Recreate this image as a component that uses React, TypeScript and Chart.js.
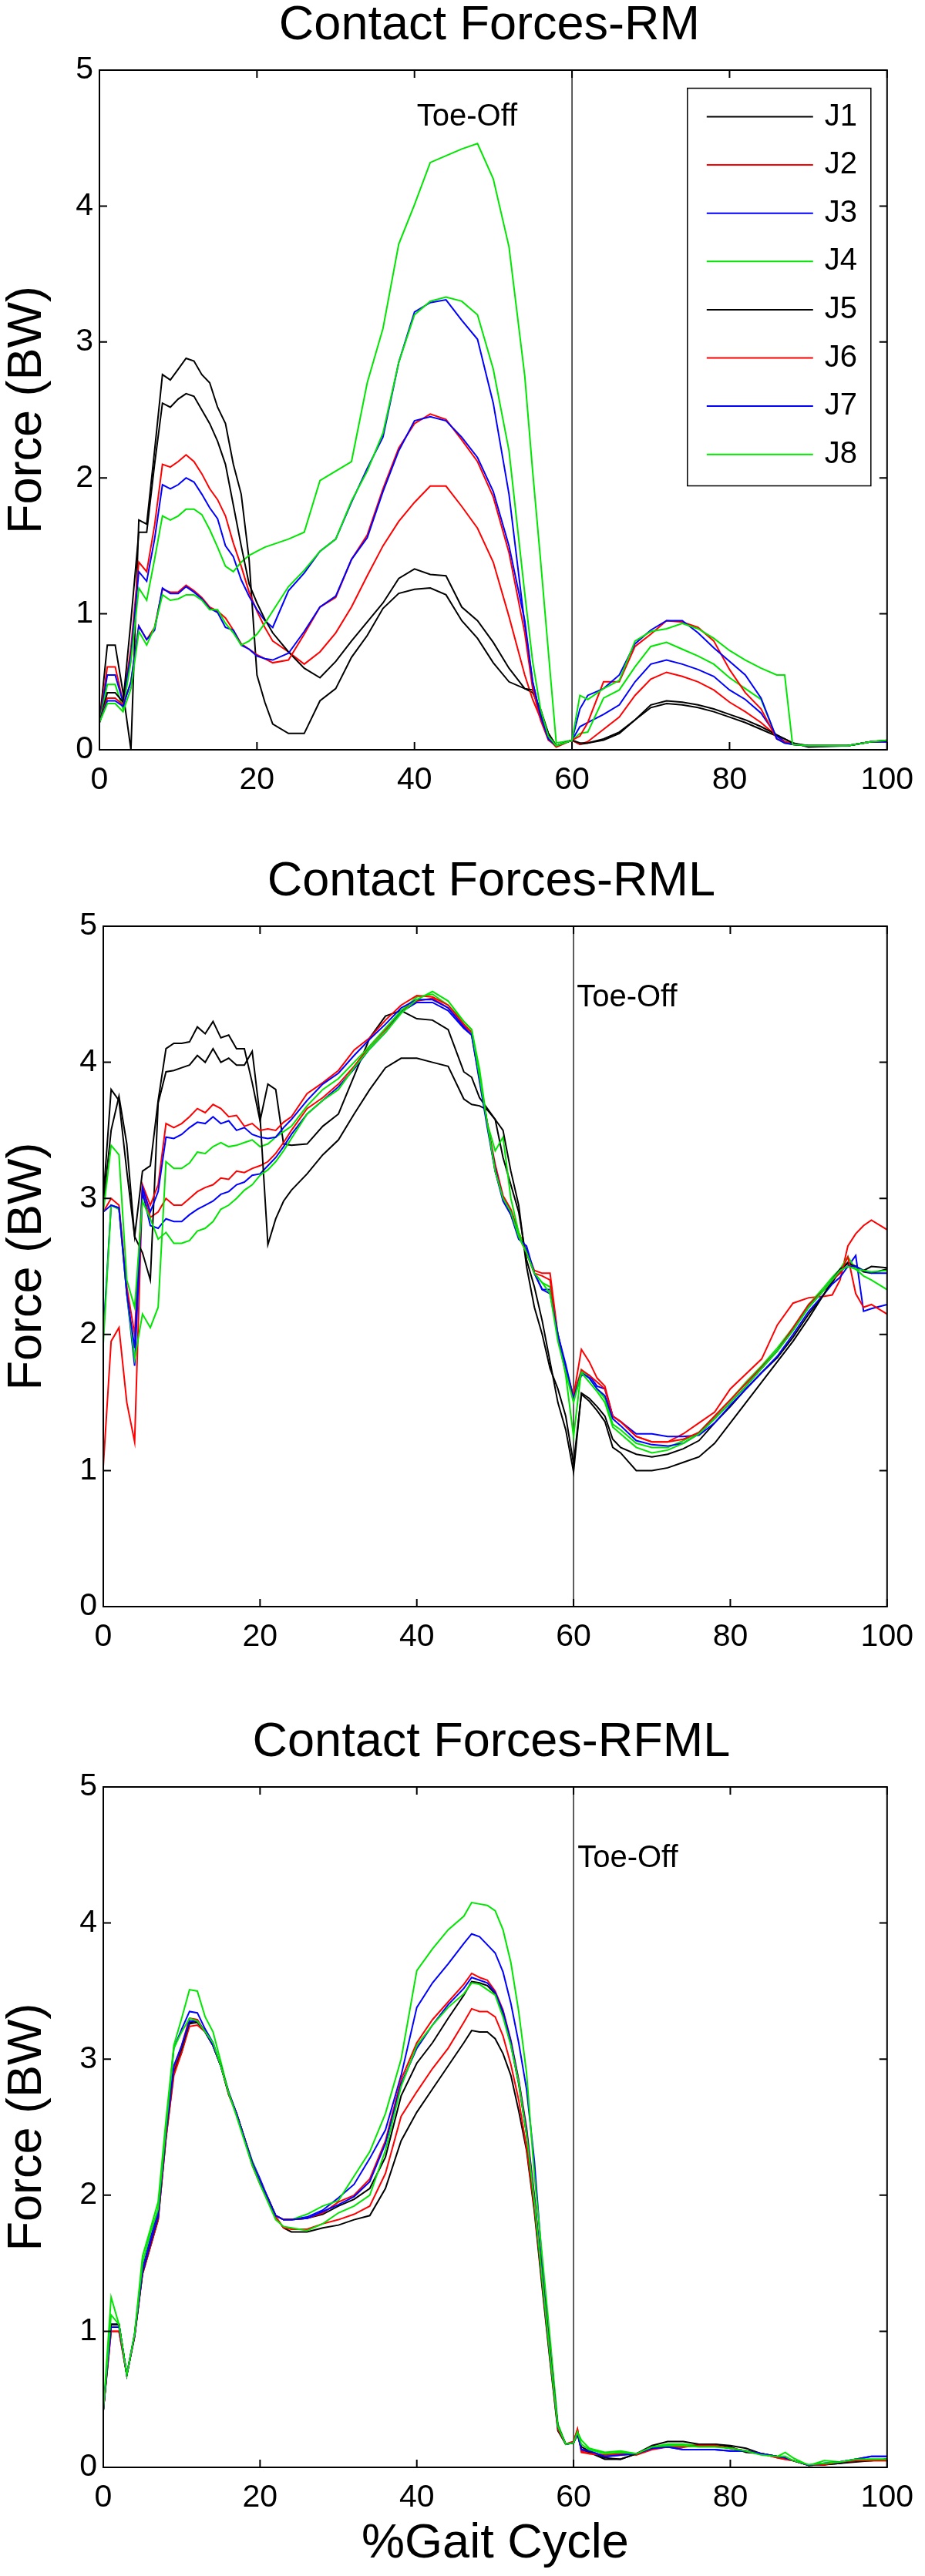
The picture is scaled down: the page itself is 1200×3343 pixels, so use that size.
import React, { useEffect, useRef } from "react";
import { Chart, registerables } from "chart.js";

Chart.register(...registerables);

const FONT = "'Liberation Sans', Arial, Helvetica, sans-serif";

const SERIES_LABELS = ["J1", "J2", "J3", "J4", "J5", "J6", "J7", "J8"];
const SERIES_COLORS = ["#000000", "#ff0000", "#0000ff", "#00e600", "#000000", "#ff0000", "#0000ff", "#00e600"];
const TOE_OFF = 60;
const TOE_OFF_LABEL = "Toe-Off";
const Y_TITLE = "Force (BW)";
const X_TITLE = "%Gait Cycle";

// ---------------- Contact Forces-RM ----------------
const RM_X = [0,1,2,3,4,5,6,7,8,9,10,11,12,13,14,15,16,17,18,19,20,21,22,24,26,28,30,32,34,36,38,40,42,44,46,48,50,52,54,55,56,57,58,60,61,62,64,66,68,70,72,74,76,78,80,82,84,86,87,88,90,95,98,100];
const RM_J1 = [0.2,0.77,0.77,0.42,0.0,1.69,1.66,2.2,2.76,2.72,2.8,2.88,2.86,2.76,2.7,2.52,2.4,2.1,1.88,1.4,0.55,0.35,0.19,0.12,0.12,0.36,0.45,0.68,0.84,1.04,1.15,1.18,1.19,1.14,0.95,0.82,0.64,0.5,0.45,0.42,0.3,0.12,0.03,0.07,0.04,0.05,0.08,0.13,0.22,0.31,0.34,0.33,0.31,0.28,0.24,0.2,0.15,0.1,0.08,0.05,0.02,0.03,0.06,0.06];
const RM_J2 = [0.2,0.61,0.61,0.35,0.75,1.38,1.31,1.65,2.1,2.08,2.12,2.17,2.12,2.03,1.92,1.84,1.72,1.52,1.35,1.16,1.02,0.9,0.8,0.72,0.63,0.72,0.86,1.05,1.28,1.5,1.68,1.82,1.94,1.94,1.79,1.63,1.38,0.98,0.55,0.37,0.23,0.08,0.02,0.07,0.04,0.06,0.15,0.24,0.4,0.52,0.57,0.54,0.5,0.44,0.35,0.28,0.2,0.1,0.06,0.04,0.03,0.03,0.06,0.06];
const RM_J3 = [0.2,0.55,0.55,0.35,0.7,1.31,1.24,1.55,1.95,1.92,1.95,2.0,1.97,1.88,1.78,1.7,1.5,1.42,1.25,1.13,1.03,0.95,0.9,1.17,1.3,1.46,1.55,1.82,2.07,2.3,2.85,3.22,3.29,3.31,3.16,3.02,2.55,1.88,0.92,0.5,0.25,0.08,0.03,0.07,0.17,0.2,0.26,0.33,0.5,0.63,0.66,0.63,0.59,0.54,0.44,0.37,0.27,0.1,0.06,0.04,0.03,0.03,0.06,0.06];
const RM_J4 = [0.2,0.48,0.48,0.3,0.65,1.19,1.1,1.4,1.72,1.69,1.72,1.77,1.77,1.73,1.62,1.49,1.35,1.31,1.38,1.43,1.46,1.49,1.51,1.55,1.6,1.98,2.05,2.12,2.7,3.1,3.72,4.01,4.32,4.37,4.42,4.46,4.2,3.7,2.75,2.05,1.4,0.72,0.05,0.07,0.12,0.13,0.38,0.44,0.61,0.76,0.79,0.74,0.69,0.63,0.53,0.45,0.37,0.08,0.05,0.04,0.03,0.03,0.06,0.07];
const RM_J5 = [0.2,0.42,0.42,0.35,0.95,1.6,1.6,2.1,2.55,2.52,2.58,2.62,2.6,2.5,2.4,2.27,2.1,1.8,1.5,1.22,1.08,0.96,0.86,0.72,0.6,0.53,0.65,0.8,0.94,1.08,1.26,1.33,1.29,1.28,1.05,0.95,0.79,0.6,0.45,0.44,0.27,0.12,0.03,0.07,0.05,0.05,0.07,0.12,0.22,0.33,0.36,0.35,0.33,0.3,0.26,0.22,0.17,0.11,0.08,0.05,0.03,0.03,0.06,0.07];
const RM_J6 = [0.2,0.38,0.38,0.33,0.5,0.91,0.81,0.9,1.18,1.16,1.16,1.21,1.17,1.12,1.05,1.02,0.97,0.88,0.78,0.74,0.7,0.67,0.64,0.66,0.85,1.05,1.12,1.4,1.58,1.92,2.22,2.4,2.47,2.43,2.28,2.12,1.86,1.45,0.86,0.45,0.22,0.07,0.03,0.07,0.1,0.2,0.5,0.5,0.76,0.85,0.95,0.94,0.9,0.8,0.59,0.42,0.3,0.08,0.06,0.04,0.03,0.03,0.06,0.06];
const RM_J7 = [0.2,0.36,0.36,0.32,0.5,0.91,0.81,0.88,1.19,1.15,1.15,1.2,1.16,1.11,1.04,1.01,0.9,0.88,0.77,0.74,0.69,0.67,0.66,0.71,0.87,1.05,1.13,1.4,1.56,1.9,2.2,2.42,2.45,2.42,2.3,2.15,1.9,1.5,0.95,0.5,0.25,0.08,0.03,0.07,0.3,0.4,0.45,0.55,0.78,0.88,0.95,0.95,0.86,0.75,0.65,0.55,0.38,0.08,0.05,0.04,0.03,0.03,0.06,0.06];
const RM_J8 = [0.2,0.34,0.34,0.28,0.45,0.87,0.77,0.9,1.14,1.1,1.11,1.14,1.14,1.1,1.03,1.03,0.93,0.86,0.77,0.8,0.85,0.93,1.02,1.2,1.32,1.46,1.55,1.83,2.05,2.33,2.85,3.2,3.3,3.33,3.3,3.2,2.8,2.2,1.15,0.65,0.3,0.1,0.03,0.07,0.4,0.37,0.45,0.51,0.8,0.87,0.89,0.93,0.89,0.82,0.73,0.66,0.6,0.55,0.55,0.04,0.03,0.03,0.06,0.07];

// ---------------- Contact Forces-RML ----------------
const RML_X = [0,1,2,3,4,5,6,7,8,9,10,11,12,13,14,15,16,17,18,19,20,21,22,23,24,26,28,30,32,34,36,38,40,42,44,46,47,48,49,50,51,52,53,54,55,56,57,58,59,60,61,62,63,64,65,66,68,70,72,74,76,78,80,82,84,86,88,90,92,93,94,95,96,97,98,100];
const RML_J1 = [3.0,3.8,3.72,3.2,2.72,3.2,3.24,3.72,4.1,4.14,4.14,4.15,4.26,4.21,4.3,4.18,4.2,4.1,4.1,3.85,3.57,3.84,3.8,3.4,3.39,3.4,3.53,3.62,3.9,4.18,4.34,4.38,4.32,4.31,4.24,3.93,3.89,3.74,3.66,3.58,3.3,3.1,2.9,2.55,2.35,2.1,1.8,1.5,1.3,0.99,1.57,1.53,1.47,1.4,1.23,1.17,1.12,1.1,1.12,1.16,1.22,1.35,1.47,1.6,1.72,1.83,1.98,2.15,2.3,2.38,2.47,2.53,2.5,2.47,2.5,2.49];
const RML_J2 = [1.03,1.95,2.05,1.5,1.21,3.08,2.86,2.9,3.0,2.95,2.95,3.0,3.05,3.08,3.1,3.15,3.14,3.2,3.19,3.22,3.24,3.27,3.33,3.41,3.5,3.66,3.74,3.84,3.97,4.12,4.24,4.38,4.45,4.47,4.4,4.27,4.22,3.9,3.55,3.25,3.02,2.92,2.75,2.62,2.47,2.45,2.45,2.0,1.75,1.55,1.89,1.8,1.68,1.62,1.4,1.36,1.25,1.21,1.21,1.27,1.35,1.43,1.6,1.71,1.82,2.07,2.23,2.27,2.28,2.29,2.4,2.65,2.74,2.8,2.84,2.77];
const RML_J3 = [2.0,2.95,2.93,2.3,1.77,3.05,2.8,2.78,2.85,2.83,2.83,2.88,2.92,2.95,2.98,3.03,3.05,3.1,3.12,3.17,3.18,3.24,3.3,3.38,3.47,3.62,3.72,3.82,3.95,4.1,4.22,4.37,4.44,4.44,4.38,4.25,4.2,3.88,3.55,3.22,3.0,2.9,2.72,2.62,2.45,2.33,2.33,2.0,1.78,1.53,1.7,1.7,1.62,1.6,1.4,1.36,1.27,1.27,1.25,1.25,1.26,1.35,1.48,1.6,1.72,1.84,2.0,2.17,2.3,2.37,2.42,2.5,2.58,2.17,2.19,2.22];
const RML_J4 = [1.93,2.95,2.92,2.3,1.82,2.15,2.05,2.2,3.27,3.22,3.22,3.26,3.34,3.33,3.38,3.41,3.38,3.39,3.41,3.43,3.38,3.4,3.45,3.49,3.53,3.68,3.8,3.88,4.0,4.12,4.25,4.38,4.48,4.5,4.42,4.3,4.24,3.95,3.55,3.35,3.45,3.0,2.75,2.6,2.45,2.38,2.35,2.0,1.7,1.25,1.74,1.68,1.6,1.53,1.34,1.3,1.2,1.17,1.17,1.22,1.28,1.4,1.52,1.65,1.77,1.9,2.05,2.22,2.35,2.42,2.48,2.57,2.48,2.43,2.4,2.33];
const RML_J5 = [2.95,3.5,3.75,3.4,2.72,2.6,2.4,3.7,3.93,3.94,3.96,3.98,4.05,4.0,4.1,4.0,4.03,3.98,3.98,4.08,3.6,2.66,2.85,2.98,3.06,3.18,3.32,3.43,3.62,3.8,3.96,4.03,4.03,4.0,3.97,3.73,3.69,3.68,3.65,3.58,3.5,3.2,2.95,2.5,2.2,2.0,1.75,1.6,1.4,1.05,1.56,1.51,1.44,1.36,1.17,1.13,1.0,1.0,1.02,1.06,1.1,1.2,1.35,1.5,1.65,1.8,1.95,2.12,2.3,2.4,2.48,2.52,2.5,2.46,2.45,2.48];
const RML_J6 = [2.9,3.0,2.95,2.35,2.0,3.1,2.95,3.1,3.55,3.52,3.55,3.6,3.66,3.63,3.69,3.66,3.6,3.61,3.53,3.55,3.5,3.51,3.5,3.56,3.6,3.77,3.85,3.94,4.09,4.18,4.31,4.42,4.49,4.48,4.42,4.28,4.22,3.88,3.55,3.2,3.0,2.88,2.72,2.6,2.45,2.43,2.4,1.98,1.72,1.55,1.74,1.7,1.65,1.6,1.4,1.36,1.25,1.21,1.21,1.23,1.28,1.4,1.52,1.64,1.76,1.88,2.05,2.22,2.33,2.4,2.45,2.57,2.3,2.2,2.22,2.15];
const RML_J7 = [2.9,2.95,2.93,2.3,1.9,3.08,2.9,3.05,3.45,3.44,3.47,3.52,3.56,3.55,3.6,3.55,3.57,3.5,3.52,3.47,3.45,3.44,3.45,3.52,3.58,3.72,3.84,3.92,4.05,4.17,4.28,4.4,4.46,4.46,4.4,4.26,4.2,3.86,3.52,3.2,2.98,2.88,2.7,2.65,2.45,2.33,2.3,2.0,1.75,1.53,1.72,1.68,1.6,1.55,1.38,1.33,1.22,1.19,1.18,1.2,1.27,1.38,1.5,1.62,1.75,1.88,2.03,2.2,2.33,2.4,2.47,2.5,2.5,2.47,2.45,2.45];
const RML_J8 = [2.9,3.39,3.32,2.4,2.2,2.98,2.85,2.7,2.75,2.67,2.67,2.69,2.76,2.78,2.83,2.92,2.95,3.0,3.06,3.1,3.17,3.21,3.27,3.35,3.44,3.62,3.72,3.8,3.96,4.1,4.22,4.36,4.46,4.52,4.45,4.3,4.24,3.9,3.55,3.2,3.0,2.9,2.72,2.6,2.45,2.38,2.3,1.95,1.72,1.5,1.72,1.65,1.58,1.5,1.32,1.27,1.17,1.13,1.15,1.2,1.27,1.38,1.5,1.62,1.75,1.88,2.03,2.2,2.33,2.4,2.47,2.5,2.48,2.47,2.46,2.47];

// ---------------- Contact Forces-RFML ----------------
const RFML_X = [0,1,2,3,4,5,6,7,8,9,10,11,12,13,14,15,16,17,18,19,20,21,22,23,24,26,28,30,32,34,36,38,40,42,44,46,47,48,49,50,51,52,53,54,55,56,57,58,59,60,60.5,61,62,64,66,68,70,72,74,76,78,80,82,84,86,87,88,90,92,94,96,98,100];
const RFML_J1 = [0.42,1.05,1.05,0.68,0.97,1.42,1.62,1.82,2.42,2.9,3.05,3.26,3.27,3.2,3.1,2.95,2.74,2.6,2.42,2.23,2.1,1.97,1.84,1.76,1.73,1.73,1.76,1.78,1.82,1.85,2.05,2.4,2.61,2.78,2.95,3.12,3.21,3.2,3.2,3.15,3.04,2.88,2.62,2.33,1.88,1.32,0.78,0.27,0.17,0.18,0.24,0.13,0.11,0.06,0.06,0.1,0.15,0.15,0.15,0.17,0.17,0.15,0.11,0.1,0.08,0.07,0.05,0.015,0.02,0.03,0.05,0.05,0.06];
const RFML_J2 = [0.42,1.0,1.0,0.68,0.96,1.42,1.62,1.82,2.42,2.88,3.05,3.24,3.25,3.2,3.1,2.95,2.74,2.6,2.42,2.22,2.08,1.96,1.84,1.76,1.75,1.75,1.79,1.82,1.86,1.92,2.16,2.58,2.76,2.93,3.08,3.27,3.37,3.35,3.35,3.31,3.17,2.96,2.7,2.35,1.9,1.35,0.8,0.28,0.17,0.19,0.28,0.11,0.1,0.09,0.1,0.09,0.13,0.15,0.15,0.16,0.16,0.14,0.12,0.1,0.07,0.06,0.05,0.015,0.02,0.04,0.05,0.05,0.05];
const RFML_J3 = [0.42,1.05,1.05,0.68,0.98,1.46,1.68,1.88,2.5,3.08,3.22,3.35,3.34,3.22,3.12,2.95,2.76,2.6,2.42,2.25,2.12,1.98,1.85,1.82,1.82,1.84,1.89,1.98,2.08,2.27,2.48,2.88,3.38,3.56,3.7,3.85,3.92,3.9,3.84,3.78,3.64,3.41,3.12,2.78,2.25,1.5,0.9,0.3,0.17,0.18,0.26,0.13,0.12,0.08,0.09,0.1,0.14,0.15,0.13,0.13,0.13,0.12,0.12,0.1,0.08,0.07,0.05,0.015,0.03,0.04,0.06,0.08,0.08];
const RFML_J4 = [0.42,1.25,1.05,0.68,0.98,1.55,1.75,1.95,2.55,3.1,3.3,3.51,3.5,3.31,3.2,2.98,2.75,2.6,2.42,2.25,2.1,1.98,1.85,1.82,1.82,1.86,1.92,1.96,2.14,2.32,2.6,3.0,3.65,3.81,3.95,4.05,4.15,4.14,4.13,4.09,3.95,3.71,3.35,2.9,2.15,1.55,0.95,0.32,0.17,0.18,0.26,0.2,0.14,0.11,0.12,0.1,0.15,0.17,0.17,0.16,0.16,0.14,0.12,0.1,0.08,0.11,0.07,0.015,0.05,0.04,0.06,0.06,0.06];
const RFML_J5 = [0.42,1.05,1.05,0.68,0.97,1.43,1.64,1.84,2.45,2.92,3.08,3.27,3.28,3.2,3.1,2.95,2.75,2.6,2.42,2.24,2.1,1.98,1.85,1.82,1.82,1.83,1.86,1.92,1.97,2.05,2.28,2.73,2.97,3.12,3.3,3.47,3.57,3.56,3.54,3.48,3.33,3.11,2.82,2.45,1.95,1.38,0.82,0.3,0.17,0.18,0.25,0.15,0.12,0.07,0.06,0.1,0.16,0.19,0.19,0.17,0.17,0.16,0.14,0.1,0.08,0.07,0.05,0.015,0.02,0.03,0.04,0.05,0.06];
const RFML_J6 = [0.42,1.0,1.0,0.68,0.97,1.44,1.65,1.85,2.45,2.93,3.1,3.3,3.29,3.2,3.1,2.95,2.75,2.6,2.42,2.24,2.1,1.98,1.85,1.82,1.82,1.83,1.87,1.95,2.0,2.12,2.4,2.85,3.12,3.29,3.42,3.55,3.63,3.6,3.58,3.5,3.36,3.14,2.85,2.5,2.0,1.4,0.85,0.3,0.17,0.19,0.28,0.12,0.1,0.09,0.1,0.1,0.14,0.15,0.15,0.16,0.16,0.14,0.12,0.1,0.07,0.06,0.05,0.015,0.02,0.04,0.05,0.05,0.05];
const RFML_J7 = [0.42,1.03,1.03,0.68,0.97,1.44,1.65,1.85,2.46,2.95,3.1,3.28,3.28,3.2,3.1,2.95,2.75,2.6,2.42,2.24,2.1,1.98,1.85,1.82,1.82,1.83,1.88,1.93,1.99,2.1,2.38,2.82,3.08,3.25,3.4,3.52,3.6,3.58,3.56,3.49,3.35,3.13,2.84,2.48,1.98,1.4,0.84,0.3,0.17,0.18,0.25,0.13,0.12,0.08,0.09,0.1,0.14,0.15,0.13,0.13,0.13,0.12,0.12,0.1,0.08,0.07,0.05,0.015,0.03,0.04,0.06,0.08,0.08];
const RFML_J8 = [0.42,1.12,1.05,0.68,0.98,1.5,1.72,1.9,2.5,3.08,3.2,3.3,3.28,3.2,3.12,2.95,2.75,2.58,2.4,2.22,2.08,1.95,1.82,1.77,1.76,1.74,1.79,1.87,1.92,2.0,2.33,2.8,3.1,3.25,3.38,3.48,3.56,3.55,3.51,3.47,3.31,3.1,2.83,2.45,1.95,1.38,0.82,0.3,0.17,0.18,0.26,0.17,0.13,0.1,0.11,0.1,0.15,0.16,0.16,0.15,0.15,0.14,0.12,0.09,0.08,0.08,0.05,0.02,0.03,0.04,0.06,0.06,0.06];

type Panel = {
  title: string;
  x: number[];
  series: number[][];
  canvasTop: number;
  canvasHeight: number;
  padTop: number;
  padRight: number;
  yAxisWidth: number;
  xAxisHeight: number;
  toeLabelX: number;
  toeLabelY: number;
  legend: boolean;
  xTitle: boolean;
};

const PANELS: Panel[] = [
  {
    title: "Contact Forces-RM",
    x: RM_X,
    series: [RM_J1, RM_J2, RM_J3, RM_J4, RM_J5, RM_J6, RM_J7, RM_J8],
    canvasTop: 0, canvasHeight: 1060, padTop: 91, padRight: 48, yAxisWidth: 129, xAxisHeight: 87,
    toeLabelX: 40.3, toeLabelY: 4.59, legend: true, xTitle: false,
  },
  {
    title: "Contact Forces-RML",
    x: RML_X,
    series: [RML_J1, RML_J2, RML_J3, RML_J4, RML_J5, RML_J6, RML_J7, RML_J8],
    canvasTop: 1060, canvasHeight: 1110, padTop: 142, padRight: 38, yAxisWidth: 134, xAxisHeight: 85,
    toeLabelX: 60.4, toeLabelY: 4.41, legend: false, xTitle: false,
  },
  {
    title: "Contact Forces-RFML",
    x: RFML_X,
    series: [RFML_J1, RFML_J2, RFML_J3, RFML_J4, RFML_J5, RFML_J6, RFML_J7, RFML_J8],
    canvasTop: 2170, canvasHeight: 1173, padTop: 149, padRight: 38, yAxisWidth: 134, xAxisHeight: 141,
    toeLabelX: 60.5, toeLabelY: 4.41, legend: false, xTitle: true,
  },
];

const decorPlugin = {
  id: "matlabDecor",
  beforeDatasetsDraw(chart: any) {
    const { ctx, chartArea: a, scales } = chart;
    const px = scales.x.getPixelForValue(TOE_OFF);
    ctx.save();
    ctx.strokeStyle = "#262626";
    ctx.lineWidth = 1.5;
    ctx.beginPath();
    ctx.moveTo(px, a.top);
    ctx.lineTo(px, a.bottom);
    ctx.stroke();
    ctx.restore();
  },
  afterDatasetsDraw(chart: any, _args: any, opts: any) {
    const { ctx, chartArea: a, scales } = chart;
    const xs = scales.x;
    const ys = scales.y;
    ctx.save();
    // frame
    ctx.strokeStyle = "#000";
    ctx.lineWidth = 2;
    ctx.strokeRect(a.left, a.top, a.right - a.left, a.bottom - a.top);
    // inward ticks on all four sides
    const TL = 10;
    ctx.beginPath();
    xs.ticks.forEach((t: any) => {
      const p = xs.getPixelForValue(t.value);
      ctx.moveTo(p, a.bottom); ctx.lineTo(p, a.bottom - TL);
      ctx.moveTo(p, a.top); ctx.lineTo(p, a.top + TL);
    });
    ys.ticks.forEach((t: any) => {
      const p = ys.getPixelForValue(t.value);
      ctx.moveTo(a.left, p); ctx.lineTo(a.left + TL, p);
      ctx.moveTo(a.right, p); ctx.lineTo(a.right - TL, p);
    });
    ctx.stroke();
    // title
    ctx.fillStyle = "#000";
    ctx.font = `63px ${FONT}`;
    ctx.textAlign = "center";
    ctx.textBaseline = "middle";
    ctx.fillText(opts.title, (a.left + a.right) / 2 - 5, a.top - 57);
    // Toe-Off label
    ctx.font = `40px ${FONT}`;
    ctx.textAlign = "left";
    ctx.textBaseline = "alphabetic";
    ctx.fillText(TOE_OFF_LABEL, xs.getPixelForValue(opts.toeX), ys.getPixelForValue(opts.toeY));
    // legend
    if (opts.legend) {
      const bw = 238, bh = 516;
      const bl = a.right - 259, bt = a.top + 23.5;
      ctx.fillStyle = "#fff";
      ctx.fillRect(bl, bt, bw, bh);
      ctx.strokeStyle = "#000";
      ctx.lineWidth = 1.5;
      ctx.strokeRect(bl, bt, bw, bh);
      ctx.font = `40px ${FONT}`;
      ctx.textBaseline = "middle";
      SERIES_LABELS.forEach((lab, i) => {
        const y = bt + 37 + i * 62.6;
        ctx.strokeStyle = SERIES_COLORS[i];
        ctx.lineWidth = 2;
        ctx.beginPath();
        ctx.moveTo(bl + 25, y);
        ctx.lineTo(bl + 163, y);
        ctx.stroke();
        ctx.fillStyle = "#000";
        ctx.fillText(lab, bl + 178, y);
      });
    }
    ctx.restore();
  },
};

function ChartPanel({ panel }: { panel: Panel }) {
  const ref = useRef<HTMLCanvasElement | null>(null);
  useEffect(() => {
    if (!ref.current) return;
    const datasets = panel.series.map((ys, i) => ({
      label: SERIES_LABELS[i],
      data: panel.x.map((x, k) => ({ x, y: ys[k] })),
      borderColor: SERIES_COLORS[i],
      backgroundColor: SERIES_COLORS[i],
      borderWidth: 2,
      pointRadius: 0,
      tension: 0,
      fill: false,
      order: 7 - i,
    }));
    const chart = new Chart(ref.current, {
      type: "line",
      data: { datasets },
      options: {
        animation: false,
        responsive: false,
        maintainAspectRatio: false,
        devicePixelRatio: 1,
        layout: { padding: { top: panel.padTop, right: panel.padRight, bottom: 0, left: 0 } },
        plugins: {
          legend: { display: false },
          title: { display: false },
          tooltip: { enabled: false },
          matlabDecor: {
            title: panel.title,
            toeX: panel.toeLabelX,
            toeY: panel.toeLabelY,
            legend: panel.legend,
          },
        } as any,
        scales: {
          x: {
            type: "linear",
            min: 0,
            max: 100,
            ticks: { stepSize: 20, color: "#000", font: { size: 41, family: FONT }, padding: 15, maxRotation: 0, autoSkip: false },
            grid: { display: false, drawTicks: false },
            border: { display: false },
            title: {
              display: panel.xTitle,
              text: X_TITLE,
              color: "#000",
              font: { size: 63, family: FONT },
              padding: { top: 0, bottom: 4 },
            },
            afterFit: (s: any) => { s.height = panel.xAxisHeight; },
          },
          y: {
            type: "linear",
            min: 0,
            max: 5,
            ticks: { stepSize: 1, color: "#000", font: { size: 41, family: FONT }, padding: 8 },
            grid: { display: false, drawTicks: false },
            border: { display: false },
            title: {
              display: true,
              text: Y_TITLE,
              color: "#000",
              font: { size: 63, family: FONT },
              padding: { top: -2, bottom: 0 },
            },
            afterFit: (s: any) => { s.width = panel.yAxisWidth; },
          },
        },
      } as any,
      plugins: [decorPlugin],
    });
    return () => chart.destroy();
  }, [panel]);
  return (
    <canvas
      ref={ref}
      width={1200}
      height={panel.canvasHeight}
      style={{ position: "absolute", left: 0, top: panel.canvasTop, width: 1200, height: panel.canvasHeight }}
    />
  );
}

export default function App() {
  return (
    <div style={{ position: "absolute", left: 0, top: 0, width: 1200, height: 3343, background: "#fff", overflow: "hidden" }}>
      {PANELS.map((p, i) => (
        <ChartPanel key={i} panel={p} />
      ))}
    </div>
  );
}
